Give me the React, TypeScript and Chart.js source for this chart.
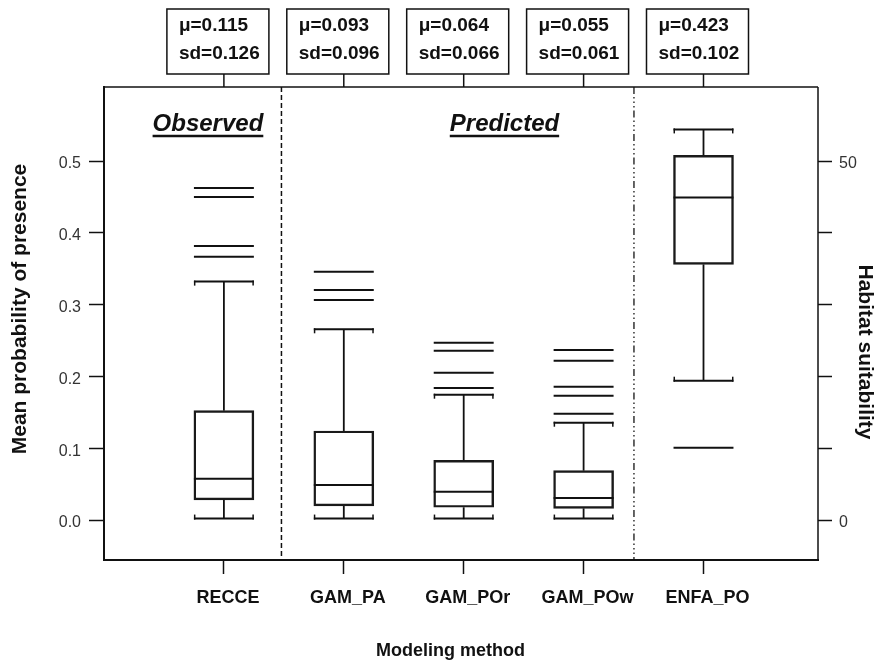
import React, { useEffect, useRef } from 'react';
import { Chart, registerables } from 'chart.js';

Chart.register(...registerables);

// ---------- data ----------
const categories = ['RECCE', 'GAM_PA', 'GAM_POr', 'GAM_POw', 'ENFA_PO'];
const positions = [1, 2, 3, 4, 5];
const whiskerLow = [0.002, 0.002, 0.002, 0.002, 0.194];
const q1 = [0.028, 0.0195, 0.0177, 0.0162, 0.356];
const medians = [0.0576, 0.0487, 0.0395, 0.0306, 0.449];
const q3 = [0.1523, 0.124, 0.0831, 0.0687, 0.508];
const whiskerHigh = [0.332, 0.2656, 0.1745, 0.1355, 0.544];
const outliersRECCE = [0.3667, 0.3815, 0.45, 0.4625];
const outliersGAM_PA = [0.3064, 0.3203, 0.3458];
const outliersGAM_POr = [0.1838, 0.2052, 0.2358, 0.247];
const outliersGAM_POw = [0.148, 0.1732, 0.1857, 0.2219, 0.2368];
const outliersENFA_PO = [0.1007];
const outliers = [outliersRECCE, outliersGAM_PA, outliersGAM_POr, outliersGAM_POw, outliersENFA_PO];
const means = [0.115, 0.093, 0.064, 0.055, 0.423];
const sds = [0.126, 0.096, 0.066, 0.061, 0.102];
const yTicks = [0, 0.1, 0.2, 0.3, 0.4, 0.5];
const y2Ticks = [0, 10, 20, 30, 40, 50];
const y2Labelled = [0, 50];
const sectionLabels = ['Observed', 'Predicted'];
const sectionCenters = [0.867, 3.34];
const separatorPositions = [1.48, 4.42];
const xTitle = 'Modeling method';
const yTitle = 'Mean probability of presence';
const y2Title = 'Habitat suitability';

// ---------- style ----------
const FONT = '"Liberation Sans", Arial, Helvetica, sans-serif';
const INK = '#111';
const BOX_HALF = 0.25;

const extrasPlugin = {
  id: 'boxplotExtras',
  afterDatasetsDraw(chart: any) {
    const { ctx, chartArea: a, scales } = chart;
    const xs = scales.x;
    const ys = scales.y;
    const halfW = xs.getPixelForValue(BOX_HALF) - xs.getPixelForValue(0);
    ctx.save();
    ctx.strokeStyle = INK;
    ctx.lineCap = 'butt';
    const line = (x1: number, y1: number, x2: number, y2: number) => {
      ctx.beginPath();
      ctx.moveTo(x1, y1);
      ctx.lineTo(x2, y2);
      ctx.stroke();
    };

    // box plot elements
    categories.forEach((_, i) => {
      const cx = xs.getPixelForValue(positions[i]);
      const yLo = ys.getPixelForValue(whiskerLow[i]);
      const yQ1 = ys.getPixelForValue(q1[i]);
      const yMed = ys.getPixelForValue(medians[i]);
      const yQ3 = ys.getPixelForValue(q3[i]);
      const yHi = ys.getPixelForValue(whiskerHigh[i]);
      ctx.lineWidth = 1.8;
      line(cx, yQ3, cx, yHi);
      line(cx, yQ1, cx, yLo);
      ctx.lineWidth = 2;
      line(cx - halfW, yHi, cx + halfW, yHi);
      line(cx - halfW, yLo, cx + halfW, yLo);
      ctx.lineWidth = 1.5;
      line(cx - halfW + 0.75, yHi - 1, cx - halfW + 0.75, yHi + 4);
      line(cx + halfW - 0.75, yHi - 1, cx + halfW - 0.75, yHi + 4);
      line(cx - halfW + 0.75, yLo + 1, cx - halfW + 0.75, yLo - 4);
      line(cx + halfW - 0.75, yLo + 1, cx + halfW - 0.75, yLo - 4);
      ctx.lineWidth = 2;
      line(cx - halfW, yMed, cx + halfW, yMed);
      outliers[i].forEach((v) => {
        const yo = ys.getPixelForValue(v);
        line(cx - halfW, yo, cx + halfW, yo);
      });
    });

    // separators
    ctx.lineWidth = 1.5;
    ctx.setLineDash([5, 3]);
    let sx = xs.getPixelForValue(separatorPositions[0]);
    line(sx, a.top, sx, a.bottom);
    ctx.strokeStyle = '#333';
    ctx.setLineDash([7, 3, 1.5, 3, 1.5, 3, 1.5, 3]);
    sx = xs.getPixelForValue(separatorPositions[1]);
    line(sx, a.top, sx, a.bottom);
    ctx.setLineDash([]);
    ctx.strokeStyle = INK;

    // frame
    ctx.lineWidth = 2;
    line(a.left, a.top - 1, a.left, a.bottom + 1);
    line(a.left - 1, a.bottom, a.right + 1, a.bottom);
    ctx.lineWidth = 1.5;
    line(a.left, a.top, a.right, a.top);
    line(a.right, a.top, a.right, a.bottom);

    // section headings
    ctx.fillStyle = INK;
    ctx.font = `italic bold 24px ${FONT}`;
    ctx.textAlign = 'center';
    ctx.textBaseline = 'middle';
    sectionLabels.forEach((t, i) => {
      const x = xs.getPixelForValue(sectionCenters[i]);
      const y = a.top + 37;
      ctx.fillText(t, x, y);
      const w = ctx.measureText(t).width;
      ctx.lineWidth = 2.5;
      line(x - w / 2, y + 12, x + w / 2, y + 12);
    });

    // stat boxes above plot
    ctx.lineWidth = 1.5;
    ctx.font = `bold 19px ${FONT}`;
    ctx.textAlign = 'left';
    categories.forEach((_, i) => {
      const cx = xs.getPixelForValue(positions[i]);
      const left = cx - 57;
      const top = 9;
      const w = 102;
      const h = 65;
      ctx.strokeRect(left, top, w, h);
      line(cx, top + h, cx, a.top);
      ctx.fillText(`\u03bc=${means[i].toFixed(3)}`, left + 12, top + 17);
      ctx.fillText(`sd=${sds[i].toFixed(3)}`, left + 12, top + 45);
    });

    // axis titles
    ctx.font = `bold 18px ${FONT}`;
    ctx.textAlign = 'center';
    ctx.fillText(xTitle, xs.getPixelForValue(2.89), 651);
    ctx.font = `bold 21px ${FONT}`;
    ctx.save();
    ctx.translate(20, 309);
    ctx.rotate(-Math.PI / 2);
    ctx.fillText(yTitle, 0, 0);
    ctx.restore();
    ctx.save();
    ctx.translate(865, 352);
    ctx.rotate(Math.PI / 2);
    ctx.fillText(y2Title, 0, 0);
    ctx.restore();

    ctx.restore();
  },
};

export default function App() {
  const ref = useRef<HTMLCanvasElement | null>(null);

  useEffect(() => {
    if (!ref.current) return;
    const pxPerY = 718; // used only to derive axis limits from layout
    const chart = new Chart(ref.current, {
      type: 'bar',
      data: {
        datasets: [
          {
            label: 'IQR',
            data: categories.map((_, i) => ({ x: positions[i], y: [q1[i], q3[i]] })) as any,
            backgroundColor: 'rgba(255,255,255,0)',
            borderColor: '#1a1a1a',
            borderWidth: 1.8,
            borderSkipped: false,
            barThickness: 60,
          },
        ],
      },
      options: {
        animation: false,
        responsive: false,
        devicePixelRatio: 1,
        layout: { padding: { top: 87, left: 0, right: 0, bottom: 0 } },
        plugins: {
          legend: { display: false },
          tooltip: { enabled: false },
          title: { display: false },
        },
        scales: {
          x: {
            type: 'linear',
            min: 0,
            max: 5.955,
            offset: false,
            afterFit: (s: any) => {
              s.height = 103;
            },
            afterBuildTicks: (s: any) => {
              s.ticks = positions.map((v) => ({ value: v }));
            },
            grid: { offset: false, drawOnChartArea: false, drawTicks: true, tickLength: 14, color: INK, tickWidth: 1.5 },
            border: { display: false },
            ticks: {
              autoSkip: false,
              maxRotation: 0,
              padding: 13,
              labelOffset: 4,
              color: INK,
              font: { family: FONT, size: 18, weight: 'bold' },
              callback: (_v: any, idx: number) => categories[idx],
            },
          },
          y: {
            type: 'linear',
            position: 'left',
            min: -40 / pxPerY,
            max: 433 / pxPerY,
            afterFit: (s: any) => {
              s.width = 104;
            },
            afterBuildTicks: (s: any) => {
              s.ticks = yTicks.map((v) => ({ value: v }));
            },
            grid: { drawOnChartArea: false, drawTicks: true, tickLength: 15, color: INK, tickWidth: 1.5 },
            border: { display: false },
            ticks: {
              padding: 8,
              labelOffset: 3,
              color: '#333',
              font: { family: FONT, size: 16 },
              callback: (v: any) => Number(v).toFixed(1),
            },
          },
          y2: {
            type: 'linear',
            position: 'right',
            display: true,
            min: (-40 / pxPerY) * 100,
            max: (433 / pxPerY) * 100,
            afterFit: (s: any) => {
              s.width = 61;
            },
            afterBuildTicks: (s: any) => {
              s.ticks = y2Ticks.map((v) => ({ value: v }));
            },
            grid: { drawOnChartArea: false, drawTicks: true, tickLength: 14, color: INK, tickWidth: 1.5 },
            border: { display: false },
            ticks: {
              padding: 7,
              labelOffset: 3,
              color: '#333',
              font: { family: FONT, size: 16 },
              callback: (v: any) => (y2Labelled.includes(Number(v)) ? String(v) : ''),
            },
          },
        },
      },
      plugins: [extrasPlugin],
    });
    return () => chart.destroy();
  }, []);

  return (
    <div style={{ position: 'absolute', left: 0, top: 0, width: 879, height: 663, background: '#fff' }}>
      <canvas ref={ref} width={879} height={663} style={{ display: 'block' }} />
    </div>
  );
}
